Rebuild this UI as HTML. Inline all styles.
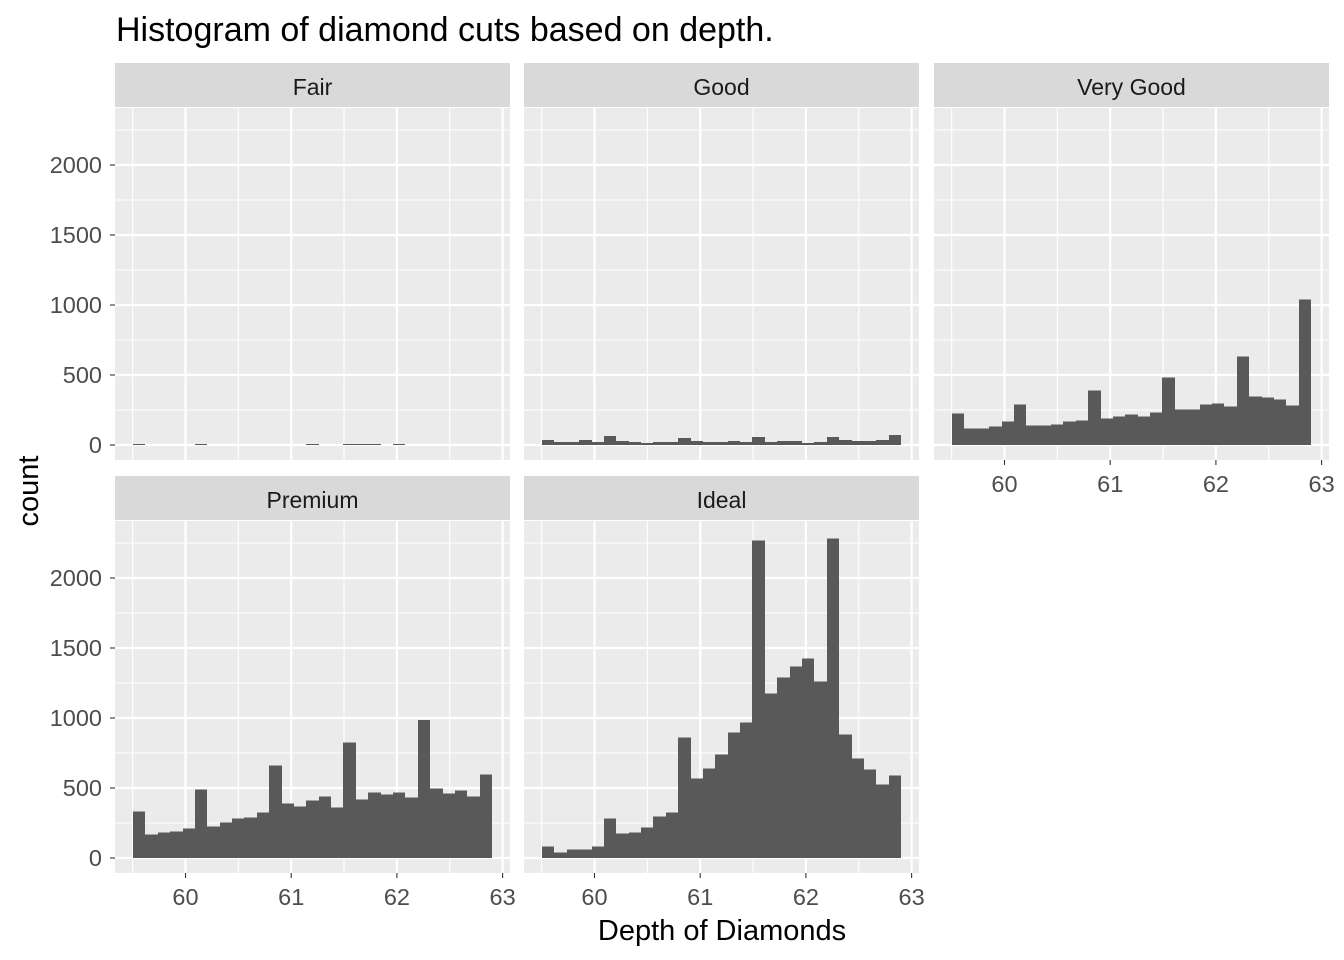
<!DOCTYPE html>
<html><head><style>body{margin:0;background:#fff}svg{display:block}text{font-family:"Liberation Sans",sans-serif}</style></head>
<body>
<svg id="s" width="1344" height="960" xmlns="http://www.w3.org/2000/svg"></svg>
<script>
const s=document.getElementById('s');let h='';
h+='<text x="116" y="41" font-size="34" fill="#000">Histogram of diamond cuts based on depth.</text>';
const panels=[
 {x:115,y:108,name:'Fair'},{x:524,y:108,name:'Good'},{x:934,y:108,name:'Very Good'},
 {x:115,y:521,name:'Premium'},{x:524,y:521,name:'Ideal'}];
const W=395,H=352;
const good=[57,63,63,57,63,45,60,63,66,63,63,51,60,63,63,60,63,48,63,60,60,66,63,48,57,60,60,57,42].map(t=>(72-t)/3);
const fair=new Array(29).fill(0);[0,5,14,17,18,19,21].forEach(i=>fair[i]=1);
const vg=[366,411,411,405,390,339,402,402,399,390,387,297,381,375,369,375,363,258,354,354,339,336,345,195,315,318,324,342,24].map(t=>(461-t)/3);
const pr=[270,339,333,330,321,204,315,303,291,288,273,132,246,255,237,225,258,63,234,213,219,213,228,-4,201,216,207,225,159].map(t=>(410-t)/3);
const id=[975,993,984,984,975,891,936,933,918,885,873,648,771,741,699,633,603,57,516,468,435,411,480,51,639,711,744,789,762].map(t=>(1010-t)/3);
const data=[fair,good,vg,pr,id];
panels.forEach((p,k)=>{
 h+=`<rect x="${p.x}" y="${p.y}" width="${W}" height="${H}" fill="#ebebeb"/>`;
 h+=`<rect x="${p.x}" y="${p.y-45}" width="${W}" height="44" fill="#d9d9d9"/>`;
 h+=`<text x="${p.x+W/2}" y="${p.y-13}" font-size="23" text-anchor="middle" fill="#1a1a1a">${p.name}</text>`;
 const z=p.y+337;
 for(let v=-250;v<=2250;v+=500){const y=z-v*0.14;if(y>p.y&&y<p.y+H)h+=`<line x1="${p.x}" x2="${p.x+W}" y1="${y}" y2="${y}" stroke="#fff" stroke-width="1.1"/>`;}
 for(let v=0;v<=2000;v+=500){const y=z-v*0.14;h+=`<line x1="${p.x}" x2="${p.x+W}" y1="${y}" y2="${y}" stroke="#fff" stroke-width="2.2"/>`;}
 for(let v=59.5;v<=63.5;v+=1){const x=p.x+70.5+(v-60)*105.7;if(x>p.x&&x<p.x+W)h+=`<line y1="${p.y}" y2="${p.y+H}" x1="${x}" x2="${x}" stroke="#fff" stroke-width="1.1"/>`;}
 for(let v=60;v<=63;v++){const x=p.x+70.5+(v-60)*105.7;h+=`<line y1="${p.y}" y2="${p.y+H}" x1="${x}" x2="${x}" stroke="#fff" stroke-width="2.2"/>`;}
 let path='';
 data[k].forEach((hh,i)=>{if(hh>0){const x=Math.round(p.x+18+i*12.38),x2=Math.round(p.x+18+(i+1)*12.38);path+=`M${x} ${z}V${(z-hh).toFixed(1)}H${x2}V${z}Z`;}});
 h+=`<path d="${path}" fill="#595959" shape-rendering="crispEdges"/>`;
 if(p.x===115){for(let v=0;v<=2000;v+=500){const y=z-v*0.14;h+=`<line x1="110" x2="115" y1="${y}" y2="${y}" stroke="#333" stroke-width="1.1"/><text x="102" y="${y+8}" font-size="23.5" text-anchor="end" fill="#4d4d4d">${v}</text>`;}}
 if(k>=2){const ya=p.y+H;for(let v=60;v<=63;v++){const x=p.x+70.5+(v-60)*105.7;h+=`<line y1="${ya}" y2="${ya+5}" x1="${x}" x2="${x}" stroke="#333" stroke-width="1.1"/><text x="${x}" y="${ya+32}" font-size="23.5" text-anchor="middle" fill="#4d4d4d">${v}</text>`;}}
});
h+='<text x="722" y="940" font-size="29" text-anchor="middle" fill="#000">Depth of Diamonds</text>';
h+='<text transform="translate(38,491) rotate(-90)" font-size="29" text-anchor="middle" fill="#000">count</text>';
s.innerHTML=h;
</script>
</body></html>
